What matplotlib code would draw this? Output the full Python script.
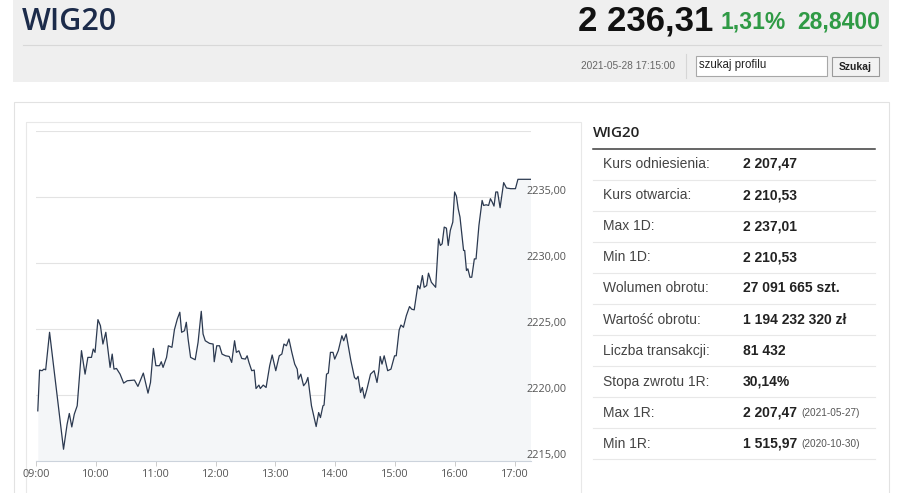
import matplotlib.pyplot as plt
from matplotlib.patches import Rectangle

# intraday WIG20 quotes, minutes after 09:00
minutes = [
    1.8, 3.6, 6.1, 7.9, 9.7, 13.6, 27.6, 31.2, 33.4, 35.9, 38.4, 41.3, 45.6, 49.2,
    52.0, 55.6, 57.4, 59.2, 62.1, 64.6, 67.1, 70.0, 74.3, 76.4, 78.2, 80.7, 84.3,
    87.9, 91.5, 98.7, 102.2, 107.6, 112.3, 114.8, 117.7, 120.2, 123.8, 125.6,
    127.4, 130.9, 132.7, 136.3, 138.8, 141.7, 144.2, 146.0, 148.9, 150.7, 152.5,
    155.0, 159.6, 162.5, 165.7, 167.5, 169.7, 174.0, 177.6, 178.7, 181.2, 184.0,
    186.5, 190.1, 193.7, 196.2, 199.1, 200.9, 203.4, 206.3, 209.9, 211.7, 213.5,
    216.3, 218.8, 220.6, 223.5, 224.9, 227.8, 230.7, 234.3, 236.8, 240.4, 243.9,
    246.5, 248.6, 251.1, 253.6, 256.5, 259.4, 261.9, 263.0, 265.5, 268.3, 270.8,
    272.6, 276.2, 280.9, 283.4, 285.2, 287.7, 288.8, 291.3, 293.1, 295.2, 297.8,
    299.5, 303.1, 306.7, 308.5, 311.0, 315.7, 319.3, 321.1, 322.9, 325.4, 327.2,
    329.3, 331.8, 335.4, 339.0, 341.9, 343.7, 345.1, 346.9, 349.1, 352.6, 355.9,
    359.5, 361.2, 364.1, 365.9, 368.4, 371.3, 374.5, 376.7, 379.2, 382.8, 384.9,
    387.4, 389.2, 391.7, 393.5, 396.4, 400.7, 403.6, 405.4, 407.2, 409.3, 411.5,
    413.3, 415.4, 417.9, 419.7, 421.5, 423.3, 425.1, 428.7, 429.8, 431.6, 433.0,
    435.1, 436.9, 439.5, 441.2, 444.1, 447.3, 448.8, 451.3, 453.8, 455.6, 457.4,
    459.2, 461.0, 462.8, 465.3, 468.9, 471.7, 476.0, 480.7, 483.2, 495.8,
]
values = [
    2218.80, 2221.89, 2221.84, 2221.96, 2221.91, 2224.75, 2215.89, 2217.79, 2218.60,
    2217.58, 2218.55, 2219.18, 2223.36, 2221.58, 2222.85, 2222.85, 2223.48, 2223.23,
    2225.71, 2225.25, 2223.86, 2224.75, 2222.09, 2223.10, 2221.96, 2222.01, 2221.58,
    2220.90, 2221.08, 2221.13, 2220.65, 2221.66, 2220.14, 2220.95, 2223.53, 2222.22,
    2222.22, 2222.52, 2222.09, 2222.85, 2223.73, 2223.61, 2224.95, 2225.76, 2226.27,
    2224.75, 2224.87, 2225.51, 2224.24, 2222.85, 2222.67, 2223.99, 2226.34, 2224.62,
    2224.11, 2223.91, 2223.86, 2222.52, 2223.73, 2223.73, 2223.10, 2222.97, 2222.92,
    2222.47, 2224.11, 2223.23, 2223.35, 2222.77, 2222.72, 2222.97, 2222.47, 2221.84,
    2221.89, 2220.49, 2220.75, 2220.49, 2220.75, 2220.57, 2222.22, 2223.03, 2221.84,
    2222.97, 2223.10, 2223.86, 2223.73, 2224.24, 2223.23, 2222.34, 2221.96, 2221.20,
    2221.58, 2220.70, 2220.95, 2221.33, 2219.18, 2217.61, 2218.67, 2218.29, 2219.18,
    2219.23, 2221.58, 2221.66, 2223.23, 2223.23, 2222.72, 2223.36, 2224.49, 2224.11,
    2224.62, 2222.60, 2221.33, 2221.20, 2221.41, 2220.19, 2220.57, 2219.76, 2220.44,
    2221.58, 2221.84, 2220.95, 2221.84, 2222.92, 2222.34, 2222.97, 2221.84, 2221.96,
    2222.97, 2222.97, 2224.92, 2225.30, 2225.13, 2226.01, 2226.70, 2226.50, 2226.45,
    2228.29, 2228.04, 2229.05, 2228.16, 2228.29, 2229.23, 2228.54, 2228.16, 2231.83,
    2231.33, 2231.45, 2232.72, 2232.64, 2231.33, 2232.47, 2233.10, 2235.38, 2235.07,
    2234.11, 2233.48, 2230.95, 2230.95, 2229.43, 2229.56, 2228.92, 2228.92, 2230.31,
    2230.31, 2232.85, 2234.74, 2234.36, 2234.41, 2234.36, 2234.87, 2234.62, 2234.31,
    2235.38, 2235.38, 2234.19, 2236.09, 2235.68, 2235.63, 2235.63, 2236.34, 2236.34,
]
hour_ticks = [0, 60, 120, 180, 240, 300, 360, 420, 480]
hour_labels = ["09:00", "10:00", "11:00", "12:00", "13:00", "14:00", "15:00", "16:00", "17:00"]
price_levels = [2215, 2220, 2225, 2230, 2235, 2240]
price_labels = ["2215,00", "2220,00", "2225,00", "2230,00", "2235,00", ""]

row_names = ["Kurs odniesienia:", "Kurs otwarcia:", "Max 1D:", "Min 1D:", "Wolumen obrotu:",
             "Wartość obrotu:", "Liczba transakcji:", "Stopa zwrotu 1R:", "Max 1R:", "Min 1R:"]
row_values = ["2 207,47", "2 210,53", "2 237,01", "2 210,53", "27 091 665 szt.",
              "1 194 232 320 zł", "81 432", "30,14%", "2 207,47", "1 515,97"]
row_dates = ["", "", "", "", "", "", "", "", "(2021-05-27)", "(2020-10-30)"]

W, H = 916, 493
SANS = ["Liberation Sans", "DejaVu Sans"]
OPEN = ["Open Sans", "DejaVu Sans"]
fig = plt.figure(figsize=(W / 100, H / 100), dpi=100)

# page layer in pixel coordinates
bg = fig.add_axes([0, 0, 1, 1])
bg.set_xlim(0, W)
bg.set_ylim(H, 0)
bg.axis("off")

bg.add_patch(Rectangle((13, 0), 876, 82, fc="#efefef", ec="none"))
bg.plot([23, 881], [44.5, 44.5], color="#d8d8d8", lw=0.8)
bg.text(22, 29.5, "WIG20", fontsize=22, weight="semibold", color="#1c2b4a", family=OPEN, va="baseline")
bg.text(578, 30.5, "2 236,31", fontsize=25, weight="bold", color="#111111", family=SANS, va="baseline")
bg.text(721, 28.5, "1,31%", fontsize=16.5, weight="bold", color="#2f9a45", family=SANS, va="baseline")
bg.text(797, 28.5, "28,8400", fontsize=16.5, weight="bold", color="#2f9a45", family=SANS, va="baseline")
bg.text(675, 66, "2021-05-28 17:15:00", fontsize=7.3, color="#666666", family=SANS, ha="right", va="center")
bg.plot([685.5, 685.5], [54, 78], color="#d6d6d6", lw=0.8)
bg.add_patch(Rectangle((695.5, 55.5), 131, 20, fc="white", ec="#a8a8a8", lw=0.8))
bg.text(699, 65, "szukaj profilu", fontsize=8.3, color="#222222", family=SANS, va="center")
bg.add_patch(Rectangle((831.5, 56.5), 47, 19, fc="#f2f2f2", ec="#9a9a9a", lw=0.8))
bg.text(855, 66.5, "Szukaj", fontsize=7.5, weight="bold", color="#222222", family=SANS, ha="center", va="center")

bg.add_patch(Rectangle((13.5, 101.5), 875, 420, fc="white", ec="#e2e2e2", lw=0.8))
bg.add_patch(Rectangle((25.5, 121.5), 555, 400, fc="none", ec="#e8e8e8", lw=0.8))

# quote table
bg.text(593, 133, "WIG20", fontsize=11, weight="semibold", color="#222222", family=OPEN, va="center")
bg.plot([593, 875], [148.5, 148.5], color="#3c3c3c", lw=1.1)
for i in range(len(row_names)):
    yc = 164 + 31.1 * i
    bg.text(603, yc, row_names[i], fontsize=10, color="#444444", family=SANS, va="center")
    t = bg.text(743, yc, row_values[i], fontsize=10, weight="bold", color="#222222", family=SANS, va="center")
    if row_dates[i]:
        bg.annotate(row_dates[i], xy=(1, 0.5), xycoords=t, xytext=(3, 0), textcoords="offset points",
                    fontsize=7.2, color="#555555", family=SANS, va="center")
    bg.plot([593, 875], [yc + 15.5, yc + 15.5], color="#e8e8e8", lw=0.8)

# intraday chart
x0, x1, y_top, y_bot = 36, 530.5, 131, 461
ax = fig.add_axes([x0 / W, 1 - y_bot / H, (x1 - x0) / W, (y_bot - y_top) / H])
ax.patch.set_alpha(0)
ax.fill_between(minutes, values, 2215, color="#f4f6f8", lw=0)
ax.plot(minutes, values, color="#2b3950", lw=0.9)
ax.set_xlim(0, 495.8)
ax.set_ylim(2215, 2240)
for lvl, lab in zip(price_levels, price_labels):
    ax.axhline(lvl, color="#e3e3e3", lw=0.8, zorder=0)
    if lab:
        ax.annotate(lab, xy=(1, lvl), xycoords=("axes fraction", "data"), xytext=(-3.2, 3.9),
                    textcoords="offset points", fontsize=7.8, color="#555555",
                    family=OPEN, ha="left", va="center")
for s in ["top", "right", "left"]:
    ax.spines[s].set_visible(False)
ax.spines["bottom"].set_color("#ccd3dc")
ax.spines["bottom"].set_linewidth(0.8)
ax.set_yticks([])
ax.set_xticks(hour_ticks)
ax.set_xticklabels(hour_labels, fontsize=7.8, color="#555555", family=OPEN)
ax.tick_params(axis="x", length=3.6, width=0.7, color="#cccccc", pad=2)

fig.savefig("out.png", dpi=100)
